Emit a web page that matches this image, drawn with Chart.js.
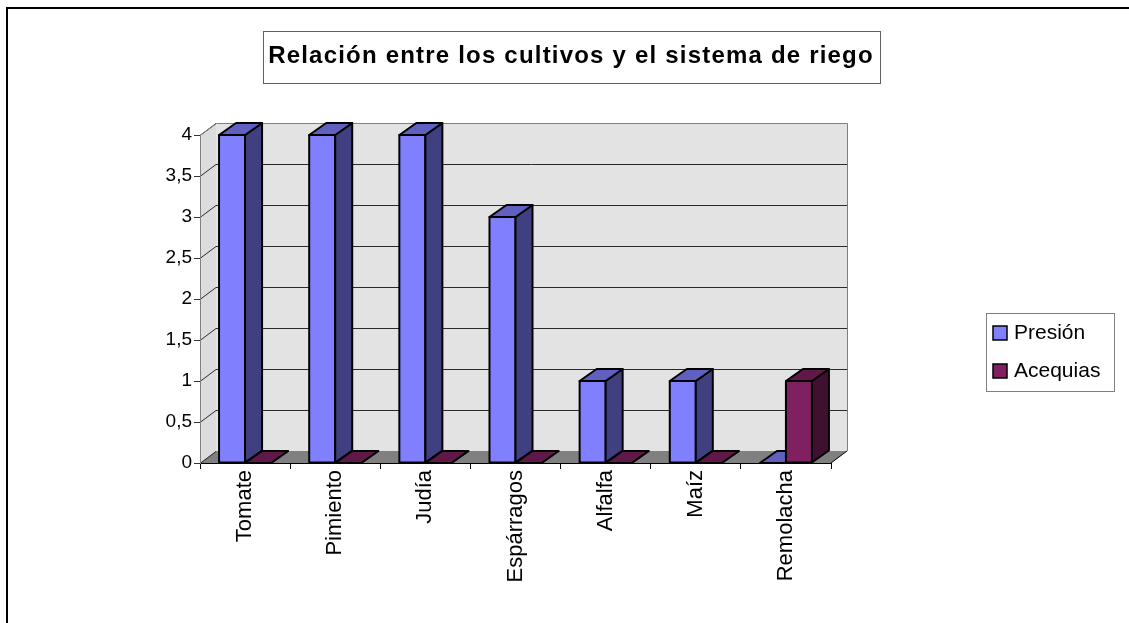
<!DOCTYPE html>
<html>
<head>
<meta charset="utf-8">
<title>Relación entre los cultivos y el sistema de riego</title>
<script src="https://cdn.jsdelivr.net/npm/chart.js@4/dist/chart.umd.min.js"></script>
<style>
html, body { margin: 0; padding: 0; background: #fff; overflow: hidden; }
#frame { position: absolute; left: 6px; top: 7px; width: 1140px; height: 640px;
         border-top: 2px solid #000; border-left: 2px solid #000; }
#wrap { position: absolute; left: 0; top: 0; width: 1129px; height: 623px; }
</style>
</head>
<body>
<div id="frame"></div>
<div id="wrap"><canvas id="chart" width="1129" height="623"></canvas></div>
<script>
const categories = ['Tomate', 'Pimiento', 'Judía', 'Espárragos', 'Alfalfa', 'Maíz', 'Remolacha'];
const presion = [4, 4, 4, 3, 1, 1, 0];
const acequias = [0, 0, 0, 0, 0, 0, 1];
const yTicks = [0, 0.5, 1, 1.5, 2, 2.5, 3, 3.5, 4];
const yTickLabels = ['0', '0,5', '1', '1,5', '2', '2,5', '3', '3,5', '4'];
const seriesNames = ['Presión', 'Acequias'];
const chartTitle = 'Relación entre los cultivos y el sistema de riego';

const frontColors = ['#8080ff', '#802060'];
const sideColors = ['#404080', '#401030'];
const topColors = ['#6060c0', '#601848'];

const FONT = '"Liberation Sans", Arial, sans-serif';
const DX = 16, DY = 12;   // depth of the walls
const BDX = 17;           // depth of the bars

function poly(ctx, pts, fill, stroke) {
    ctx.beginPath();
    ctx.moveTo(pts[0][0], pts[0][1]);
    for (let i = 1; i < pts.length; i++) ctx.lineTo(pts[i][0], pts[i][1]);
    ctx.closePath();
    if (fill) { ctx.fillStyle = fill; ctx.fill(); }
    if (stroke) ctx.stroke();
}

// fake 3D: walls, floor, gridlines, bar sides, title and legend boxes
const fake3d = {
    id: 'fake3d',
    beforeDraw(chart) {
        const { ctx, chartArea: a, scales: { y } } = chart;
        ctx.save();
        // back wall
        ctx.fillStyle = '#e3e3e3';
        ctx.fillRect(a.left + DX, a.top - DY, a.right - a.left, a.bottom - a.top);
        // left wall
        poly(ctx, [[a.left, a.top], [a.left + DX, a.top - DY], [a.left + DX, a.bottom - DY], [a.left, a.bottom]], '#dcdcdc');
        // floor
        poly(ctx, [[a.left, a.bottom], [a.left + DX, a.bottom - DY], [a.right + DX, a.bottom - DY], [a.right, a.bottom]], '#808080');

        // gridlines on the left wall and back wall
        ctx.lineWidth = 1;
        yTicks.forEach(v => {
            const py = Math.round(y.getPixelForValue(v)) + 0.5;
            ctx.strokeStyle = '#2a2a2a';
            ctx.beginPath();
            ctx.moveTo(a.left, py);
            ctx.lineTo(a.left + DX, py - DY);
            if (v > yTicks[0] && v < yTicks[yTicks.length - 1]) ctx.lineTo(a.right + DX, py - DY);
            ctx.stroke();
        });

        // wall outline
        ctx.strokeStyle = '#808080';
        ctx.beginPath();
        ctx.moveTo(a.left, a.top + 0.5);
        ctx.lineTo(a.left + DX + 0.5, a.top - DY + 0.5);
        ctx.lineTo(a.right + DX + 0.5, a.top - DY + 0.5);
        ctx.lineTo(a.right + DX + 0.5, a.bottom - DY);
        ctx.stroke();
        ctx.strokeStyle = '#000';
        ctx.beginPath();
        ctx.moveTo(a.right, a.bottom);
        ctx.lineTo(a.right + DX, a.bottom - DY);
        ctx.stroke();
        ctx.restore();
    },
    beforeDatasetsDraw(chart) {
        const ctx = chart.ctx;
        const metas = chart.data.datasets.map((d, i) => chart.getDatasetMeta(i));
        ctx.save();
        ctx.lineWidth = 2;
        ctx.strokeStyle = '#000';
        ctx.lineJoin = 'round';
        categories.forEach((c, i) => {
            metas.forEach((meta, d) => {
                const el = meta.data[i];
                const { x, y, base, width } = el.getProps(['x', 'y', 'base', 'width'], true);
                const l = x - width / 2, r = x + width / 2;
                el.draw(ctx);
                if (base - y > 0.5) {
                    ctx.strokeRect(l, y, width, base - y);
                }
                poly(ctx, [[r, y], [r + BDX, y - DY], [r + BDX, base - DY], [r, base]], sideColors[d], true);
                poly(ctx, [[l, y], [l + BDX, y - DY], [r + BDX, y - DY], [r, y]], topColors[d], true);
            });
        });
        ctx.restore();
        return false;
    },
    afterDraw(chart) {
        const ctx = chart.ctx;
        ctx.save();
        // title box
        ctx.strokeStyle = '#606060';
        ctx.lineWidth = 1;
        ctx.strokeRect(263.5, 31.5, 617, 52);
        ctx.fillStyle = '#000';
        ctx.font = 'bold 24px ' + FONT;
        ctx.textAlign = 'center';
        ctx.textBaseline = 'alphabetic';
        ctx.letterSpacing = '1.2px';
        ctx.fillText(chartTitle, 571, 63);
        ctx.letterSpacing = '0px';

        // legend box
        ctx.strokeStyle = '#808080';
        ctx.strokeRect(986.5, 313.5, 128, 78);
        ctx.font = '21px ' + FONT;
        ctx.textAlign = 'left';
        ctx.textBaseline = 'middle';
        chart.data.datasets.forEach((ds, i) => {
            const cy = 332 + i * 38;
            ctx.fillStyle = ds.backgroundColor;
            ctx.fillRect(993, cy - 6, 14, 14);
            ctx.strokeStyle = '#000';
            ctx.lineWidth = 1.5;
            ctx.strokeRect(993, cy - 6, 14, 14);
            ctx.fillStyle = '#000';
            ctx.fillText(ds.label, 1014, cy + 1);
        });
        ctx.restore();
    }
};

new Chart(document.getElementById('chart'), {
    type: 'bar',
    data: {
        labels: categories,
        datasets: [
            { label: seriesNames[0], data: presion, backgroundColor: frontColors[0], borderWidth: 0 },
            { label: seriesNames[1], data: acequias, backgroundColor: frontColors[1], borderWidth: 0 }
        ]
    },
    options: {
        responsive: false,
        animation: false,
        events: [],
        layout: { padding: { top: 135, right: 298, bottom: 0, left: 0 } },
        datasets: { bar: { categoryPercentage: 0.577, barPercentage: 1 } },
        plugins: {
            legend: { display: false },
            title: { display: false },
            tooltip: { enabled: false }
        },
        scales: {
            x: {
                afterFit: s => { s.height = 160; },
                border: { display: true, color: '#000', width: 1 },
                grid: { offset: true, drawOnChartArea: false, drawTicks: true, tickLength: 6, color: '#000' },
                ticks: {
                    minRotation: 90, maxRotation: 90, autoSkip: false, padding: 1,
                    color: '#000', font: { family: FONT, size: 22 }
                }
            },
            y: {
                min: 0,
                max: 4,
                afterFit: s => { s.width = 200; },
                afterBuildTicks: s => { s.ticks = yTicks.map(v => ({ value: v })); },
                border: { display: true, color: '#808080', width: 1 },
                grid: { drawOnChartArea: false, drawTicks: true, tickLength: 6, color: '#333' },
                ticks: {
                    padding: 2, color: '#000', font: { family: FONT, size: 19 },
                    callback: (v) => yTickLabels[yTicks.indexOf(v)]
                }
            }
        }
    },
    plugins: [fake3d]
});
</script>
</body>
</html>
